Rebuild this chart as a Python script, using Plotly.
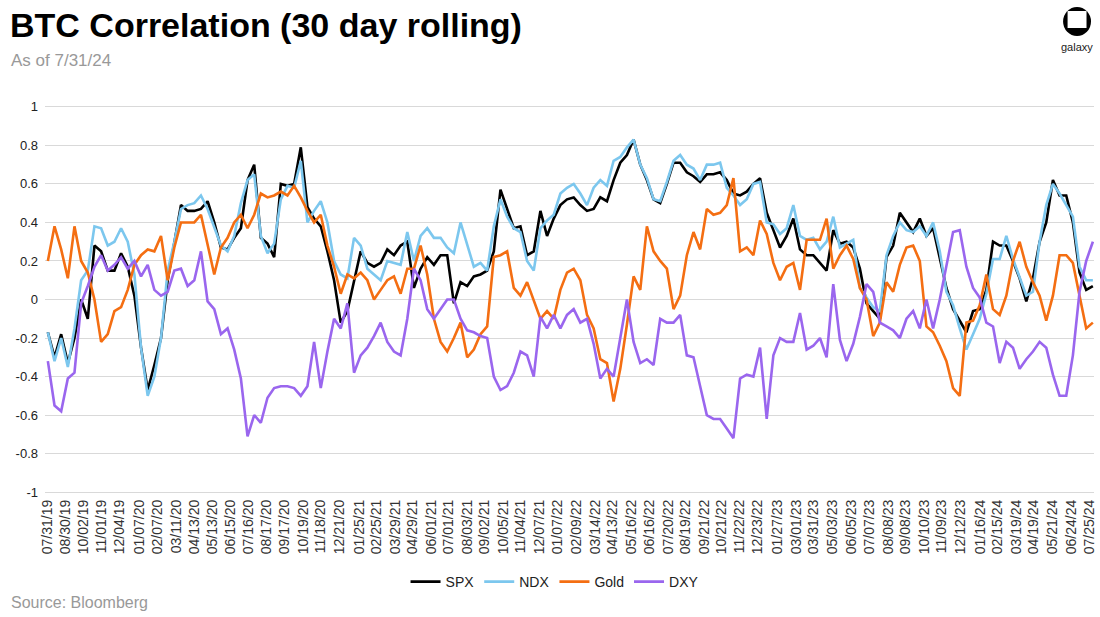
import pandas as pd
import plotly.graph_objects as go

# ---------------- data ----------------
dates = pd.date_range("2019-07-31", "2024-07-31", periods=158)

spx = [-0.17, -0.30, -0.18, -0.33, -0.20, 0.00, -0.10, 0.28, 0.25, 0.15,
       0.15, 0.24, 0.17, 0.02, -0.25, -0.47, -0.34, -0.20, 0.10, 0.30,
       0.49, 0.46, 0.46, 0.47, 0.51, 0.40, 0.27, 0.26, 0.32, 0.37,
       0.62, 0.70, 0.32, 0.29, 0.22, 0.60, 0.59, 0.60, 0.79, 0.48,
       0.42, 0.38, 0.25, 0.10, -0.12, -0.06, 0.09, 0.25, 0.19, 0.17,
       0.19, 0.26, 0.23, 0.28, 0.30, 0.06, 0.16, 0.22, 0.18, 0.23,
       0.23, -0.02, 0.09, 0.07, 0.12, 0.13, 0.15, 0.25, 0.57, 0.47,
       0.37, 0.38, 0.23, 0.25, 0.46, 0.33, 0.42, 0.49, 0.52, 0.53,
       0.49, 0.46, 0.47, 0.53, 0.51, 0.62, 0.71, 0.75, 0.83, 0.70,
       0.62, 0.52, 0.50, 0.60, 0.71, 0.71, 0.66, 0.64, 0.61, 0.65,
       0.65, 0.66, 0.62, 0.55, 0.54, 0.56, 0.60, 0.63, 0.45, 0.36,
       0.27, 0.33, 0.42, 0.26, 0.23, 0.23, 0.19, 0.15, 0.36, 0.29,
       0.30, 0.27, 0.16, -0.02, -0.06, -0.10, 0.22, 0.28, 0.45, 0.40,
       0.35, 0.42, 0.33, 0.37, 0.21, 0.06, -0.05, -0.11, -0.17, -0.06,
       -0.05, 0.05, 0.30, 0.28, 0.28, 0.20, 0.11, -0.01, 0.11, 0.30,
       0.40, 0.62, 0.54, 0.54, 0.40, 0.14, 0.05, 0.07]

ndx = [-0.17, -0.32, -0.20, -0.35, -0.15, 0.10, 0.15, 0.38, 0.37, 0.28,
       0.30, 0.37, 0.30, 0.13, -0.25, -0.50, -0.40, -0.20, 0.15, 0.30,
       0.47, 0.49, 0.50, 0.54, 0.47, 0.38, 0.28, 0.25, 0.33, 0.50,
       0.62, 0.65, 0.33, 0.24, 0.29, 0.52, 0.59, 0.58, 0.72, 0.40,
       0.46, 0.51, 0.40, 0.20, 0.13, 0.11, 0.32, 0.28, 0.16, 0.13,
       0.10, 0.20, 0.19, 0.18, 0.35, 0.20, 0.33, 0.37, 0.32, 0.32,
       0.27, 0.24, 0.40, 0.28, 0.17, 0.19, 0.15, 0.38, 0.52, 0.43,
       0.37, 0.35, 0.20, 0.15, 0.37, 0.41, 0.44, 0.55, 0.58, 0.60,
       0.55, 0.49, 0.58, 0.62, 0.59, 0.72, 0.74, 0.79, 0.83, 0.70,
       0.63, 0.52, 0.51, 0.61, 0.72, 0.75, 0.70, 0.68, 0.62, 0.70,
       0.70, 0.71, 0.58, 0.54, 0.49, 0.52, 0.60, 0.61, 0.40, 0.39,
       0.34, 0.37, 0.49, 0.33, 0.31, 0.32, 0.26, 0.30, 0.43, 0.27,
       0.29, 0.31, 0.06, 0.01, -0.04, -0.06, 0.23, 0.33, 0.40, 0.36,
       0.35, 0.38, 0.33, 0.40, 0.25, 0.04, -0.03, -0.15, -0.26, -0.18,
       -0.10, 0.03, 0.21, 0.21, 0.33, 0.21, 0.11, 0.02, 0.04, 0.30,
       0.49, 0.60, 0.55, 0.49, 0.43, 0.17, 0.10, 0.10]

gold = [0.20, 0.38, 0.26, 0.11, 0.38, 0.20, 0.14, 0.00, -0.22, -0.18,
        -0.06, -0.04, 0.05, 0.18, 0.23, 0.26, 0.25, 0.33, 0.10, 0.27,
        0.40, 0.40, 0.40, 0.44, 0.28, 0.13, 0.27, 0.32, 0.40, 0.44,
        0.37, 0.44, 0.55, 0.53, 0.54, 0.56, 0.54, 0.59, 0.53, 0.46,
        0.40, 0.44, 0.28, 0.17, 0.03, 0.13, 0.11, 0.14, 0.10, 0.00,
        0.05, 0.10, 0.12, 0.03, 0.16, 0.16, 0.28, 0.13, -0.10, -0.22,
        -0.27, -0.20, -0.12, -0.30, -0.26, -0.18, -0.14, 0.22, 0.23, 0.25,
        0.06, 0.02, 0.09, -0.01, -0.10, -0.06, -0.10, 0.05, 0.14, 0.16,
        0.10, -0.08, -0.15, -0.31, -0.33, -0.53, -0.36, -0.13, 0.12, 0.05,
        0.38, 0.25, 0.20, 0.16, -0.05, 0.02, 0.23, 0.35, 0.26, 0.47,
        0.44, 0.45, 0.49, 0.63, 0.25, 0.27, 0.23, 0.41, 0.34, 0.19,
        0.10, 0.17, 0.19, 0.05, 0.31, 0.31, 0.31, 0.42, 0.16, 0.23,
        0.28, 0.21, 0.06, 0.00, -0.19, -0.12, 0.09, 0.04, 0.18, 0.27,
        0.28, 0.20, -0.14, -0.17, -0.24, -0.32, -0.46, -0.50, -0.12, -0.11,
        -0.03, 0.13, -0.05, -0.08, 0.02, 0.20, 0.30, 0.17, 0.09, 0.02,
        -0.11, 0.02, 0.23, 0.23, 0.19, 0.02, -0.15, -0.12]

dxy = [-0.32, -0.55, -0.58, -0.41, -0.38, -0.02, 0.07, 0.17, 0.23, 0.15,
       0.18, 0.22, 0.16, 0.20, 0.12, 0.18, 0.05, 0.02, 0.04, 0.15,
       0.16, 0.07, 0.10, 0.25, -0.01, -0.05, -0.18, -0.15, -0.26, -0.41,
       -0.71, -0.60, -0.64, -0.51, -0.46, -0.45, -0.45, -0.46, -0.50, -0.45,
       -0.22, -0.46, -0.27, -0.10, -0.15, -0.02, -0.38, -0.29, -0.25, -0.19,
       -0.12, -0.22, -0.27, -0.29, -0.10, 0.16, 0.10, -0.05, -0.10, -0.05,
       0.00, 0.00, -0.10, -0.16, -0.17, -0.19, -0.20, -0.40, -0.47, -0.45,
       -0.38, -0.27, -0.29, -0.40, -0.09, -0.15, -0.08, -0.15, -0.08, -0.05,
       -0.12, -0.10, -0.23, -0.41, -0.36, -0.40, -0.20, 0.00, -0.22, -0.33,
       -0.31, -0.34, -0.10, -0.12, -0.12, -0.08, -0.29, -0.30, -0.45, -0.60,
       -0.62, -0.62, -0.67, -0.72, -0.41, -0.39, -0.40, -0.25, -0.62, -0.29,
       -0.20, -0.22, -0.22, -0.07, -0.26, -0.24, -0.20, -0.30, 0.08, -0.21,
       -0.32, -0.23, -0.09, 0.08, 0.04, -0.12, -0.14, -0.16, -0.20, -0.10,
       -0.06, -0.15, 0.00, -0.15, 0.00, 0.17, 0.35, 0.36, 0.17, 0.06,
       0.01, -0.12, -0.14, -0.33, -0.22, -0.25, -0.36, -0.31, -0.27, -0.22,
       -0.25, -0.39, -0.50, -0.50, -0.29, 0.04, 0.20, 0.30]

series_names = ["SPX", "NDX", "Gold", "DXY"]
series_colors = ["#000000", "#7cc7ee", "#f46e12", "#9a66ee"]

x_tick_labels = [
    "07/31/19", "08/30/19", "10/02/19", "11/01/19", "12/04/19", "01/07/20",
    "02/07/20", "03/11/20", "04/13/20", "05/13/20", "06/15/20", "07/16/20",
    "08/17/20", "09/17/20", "10/19/20", "11/18/20", "12/21/20", "01/25/21",
    "02/25/21", "03/29/21", "04/29/21", "06/01/21", "07/01/21", "08/03/21",
    "09/02/21", "10/05/21", "11/04/21", "12/07/21", "01/07/22", "02/09/22",
    "03/14/22", "04/13/22", "05/16/22", "06/16/22", "07/20/22", "08/19/22",
    "09/21/22", "10/21/22", "11/22/22", "12/23/22", "01/27/23", "03/01/23",
    "03/31/23", "05/03/23", "06/05/23", "07/07/23", "08/08/23", "09/08/23",
    "10/10/23", "11/09/23", "12/12/23", "01/16/24", "02/15/24", "03/19/24",
    "04/19/24", "05/21/24", "06/24/24", "07/25/24"]

y_tick_vals = [-1, -0.8, -0.6, -0.4, -0.2, 0, 0.2, 0.4, 0.6, 0.8, 1]
y_tick_text = ["-1", "-0.8", "-0.6", "-0.4", "-0.2", "0", "0.2", "0.4", "0.6", "0.8", "1"]

# ---------------- figure ----------------
W, H = 1100, 617
ML, MR, MT, MB = 45, 3, 103, 121
PW, PH = W - ML - MR, H - MT - MB


def px(x):
    return (x - ML) / PW


def py(y):
    return (H - MB - y) / PH


FONT = "Liberation Sans, Arial, sans-serif"

fig = go.Figure()
for name, vals, col in zip(series_names, [spx, ndx, gold, dxy], series_colors):
    fig.add_trace(go.Scatter(x=dates, y=vals, name=name, mode="lines",
                             line=dict(color=col, width=2.6)))

fig.update_layout(
    width=W, height=H,
    margin=dict(l=ML, r=MR, t=MT, b=MB, pad=0),
    paper_bgcolor="white", plot_bgcolor="white",
    font=dict(family=FONT, color="#222222"),
    showlegend=True,
    legend=dict(orientation="h", x=px(556), xanchor="center", y=py(582), yanchor="middle",
                font=dict(size=14, family=FONT, color="#222222"), itemwidth=30,
                bgcolor="rgba(0,0,0,0)"),
    xaxis=dict(type="date", range=["2019-07-26", "2024-08-02"],
               tickmode="array",
               tickvals=pd.to_datetime(x_tick_labels, format="%m/%d/%y"),
               ticktext=x_tick_labels, tickangle=-90,
               tickfont=dict(size=14, family=FONT, color="#333333"),
               showgrid=False, zeroline=False, showline=False, ticks=""),
    yaxis=dict(range=[-1.02, 1.02], tickmode="array", tickvals=y_tick_vals,
               ticktext=y_tick_text, tickfont=dict(size=13, family=FONT, color="#222222"),
               showgrid=True, gridcolor="#d9d9d9", gridwidth=1,
               zeroline=False, showline=False, ticks="", ticklabelstandoff=6),
)

annotations = [
    dict(text="<b>BTC Correlation (30 day rolling)</b>", x=px(8), y=py(25),
         xanchor="left", yanchor="middle", showarrow=False,
         font=dict(size=34, family=FONT, color="#000000")),
    dict(text="As of 7/31/24", x=px(9), y=py(60), xanchor="left", yanchor="middle",
         showarrow=False, font=dict(size=17, family=FONT, color="#999999")),
    dict(text="Source: Bloomberg", x=px(9), y=py(602), xanchor="left", yanchor="middle",
         showarrow=False, font=dict(size=16, family=FONT, color="#999999")),
    dict(text="galaxy", x=px(1080), y=py(47), xanchor="center", yanchor="middle",
         showarrow=False, font=dict(size=11, family=FONT, color="#222222")),
]
for a in annotations:
    a["xref"] = "paper"
    a["yref"] = "paper"
fig.update_layout(annotations=annotations)

# galaxy logo mark
shapes = [
    dict(type="circle", xref="paper", yref="paper",
         x0=px(1066), x1=px(1094), y0=py(36), y1=py(7),
         fillcolor="#000000", line=dict(width=0)),
    dict(type="rect", xref="paper", yref="paper",
         x0=px(1070.5), x1=px(1089.5), y0=py(28), y1=py(11),
         fillcolor="#ffffff", line=dict(width=0)),
]
fig.update_layout(shapes=shapes)

fig.write_html("out.html", config={"displayModeBar": False},
               post_script="document.body.style.margin='0px';document.body.style.padding='0px';")
